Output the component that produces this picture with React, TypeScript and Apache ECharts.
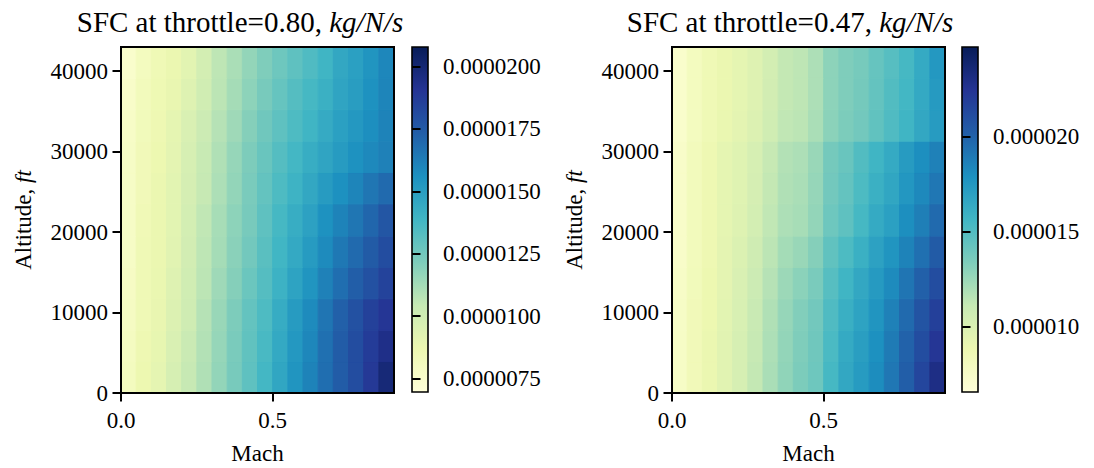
import React, { useEffect, useRef } from "react";
import * as echarts from "echarts";

// Grid of the map: Mach column edges and altitude row edges (ft)
const machEdges = [0, 0.05, 0.1, 0.15, 0.2, 0.25, 0.3, 0.35, 0.4, 0.45, 0.5, 0.55, 0.6, 0.65, 0.7, 0.75, 0.8, 0.85, 0.9];
const altEdges = [0, 3900, 7800, 11700, 15600, 19500, 23500, 27400, 31300, 35200, 39100, 43000];

const machTicks = [0, 0.5];
const altTicks = [0, 10000, 20000, 30000, 40000];

// SFC in 1e-6 kg/N/s; rows go from the lowest altitude band upward, columns from Mach 0 upward
const sfcThrottle080 = [
  [8.07, 8.69, 9.03, 9.72, 10.42, 10.97, 11.66, 12.35, 13.04, 13.8, 14.63, 15.39, 16.08, 16.77, 17.39, 18.02, 18.85, 19.9],
  [8.0, 8.62, 8.96, 9.59, 10.28, 10.9, 11.59, 12.28, 12.97, 13.66, 14.49, 15.25, 15.94, 16.7, 17.39, 18.02, 18.71, 19.4],
  [7.93, 8.48, 8.89, 9.45, 10.07, 10.83, 11.52, 12.21, 12.9, 13.52, 14.35, 15.11, 15.81, 16.56, 17.26, 17.88, 18.5, 18.98],
  [7.86, 8.48, 8.83, 9.38, 10.0, 10.69, 11.38, 12.0, 12.7, 13.32, 14.08, 14.77, 15.39, 16.15, 16.77, 17.33, 17.88, 18.43],
  [7.79, 8.48, 8.76, 9.24, 9.93, 10.62, 11.24, 11.87, 12.49, 13.18, 13.87, 14.49, 15.11, 15.81, 16.43, 16.91, 17.46, 18.02],
  [7.79, 8.41, 8.76, 9.17, 9.86, 10.55, 11.18, 11.8, 12.35, 13.04, 13.73, 14.28, 14.84, 15.53, 16.08, 16.5, 17.05, 17.67],
  [7.79, 8.34, 8.76, 9.17, 9.79, 10.42, 11.04, 11.66, 12.28, 12.9, 13.52, 14.01, 14.56, 15.11, 15.6, 16.01, 16.5, 16.91],
  [7.79, 8.34, 8.69, 9.1, 9.72, 10.35, 10.97, 11.59, 12.21, 12.76, 13.32, 13.8, 14.28, 14.7, 15.11, 15.53, 15.87, 16.15],
  [7.72, 8.27, 8.62, 9.03, 9.59, 10.21, 10.83, 11.38, 12.0, 12.56, 13.04, 13.52, 13.94, 14.42, 14.91, 15.25, 15.67, 16.08],
  [7.65, 8.2, 8.55, 8.89, 9.38, 10.0, 10.69, 11.24, 11.8, 12.35, 12.83, 13.32, 13.73, 14.15, 14.7, 15.04, 15.53, 16.01],
  [7.51, 8.07, 8.48, 8.76, 9.17, 9.86, 10.62, 11.11, 11.66, 12.14, 12.63, 13.04, 13.46, 13.94, 14.56, 14.91, 15.39, 15.94],
];

const sfcThrottle047 = [
  [7.67, 8.39, 8.94, 9.57, 10.2, 11.2, 12.02, 12.83, 13.47, 14.01, 15.46, 16.55, 17.27, 18.09, 19.08, 20.17, 21.44, 23.0],
  [7.67, 8.39, 8.94, 9.57, 10.2, 11.11, 11.93, 12.74, 13.38, 13.92, 15.28, 16.37, 17.09, 17.91, 18.9, 19.99, 21.08, 22.34],
  [7.67, 8.39, 8.85, 9.48, 10.11, 11.02, 11.84, 12.65, 13.28, 13.83, 15.1, 16.09, 16.82, 17.63, 18.63, 19.63, 20.71, 21.8],
  [7.58, 8.3, 8.85, 9.39, 10.02, 10.84, 11.65, 12.47, 13.01, 13.56, 14.82, 15.73, 16.55, 17.36, 18.18, 19.17, 20.08, 21.08],
  [7.49, 8.21, 8.75, 9.39, 9.93, 10.66, 11.47, 12.2, 12.56, 13.19, 14.46, 15.19, 16.0, 16.91, 17.63, 18.54, 19.35, 20.35],
  [7.49, 8.21, 8.75, 9.3, 9.75, 10.39, 11.29, 11.93, 12.11, 12.74, 14.01, 14.55, 15.46, 16.37, 17.0, 18.0, 18.72, 19.63],
  [7.49, 8.21, 8.75, 9.3, 9.66, 10.3, 11.2, 11.84, 12.02, 12.65, 13.83, 14.37, 15.19, 16.0, 16.64, 17.54, 18.27, 19.08],
  [7.49, 8.21, 8.75, 9.3, 9.66, 10.2, 11.11, 11.74, 11.93, 12.56, 13.74, 14.19, 15.01, 15.73, 16.37, 17.27, 18.0, 18.63],
  [7.3, 8.03, 8.57, 9.03, 9.39, 9.84, 10.57, 11.29, 11.47, 12.02, 13.01, 13.47, 13.83, 14.46, 15.1, 15.73, 16.55, 17.27],
  [7.3, 8.03, 8.57, 8.94, 9.3, 9.75, 10.48, 11.2, 11.38, 11.93, 12.92, 13.38, 13.74, 14.37, 15.01, 15.55, 16.46, 17.36],
  [7.3, 8.03, 8.57, 8.94, 9.3, 9.75, 10.39, 11.2, 11.38, 11.93, 12.92, 13.38, 13.65, 14.28, 14.82, 15.46, 16.37, 17.45],
];

// Colour bar ranges and ticks, 1e-6 kg/N/s
const cbRange080 = [6.96, 20.78];
const cbTicks080 = [7.5, 10, 12.5, 15, 17.5, 20];
const cbRange047 = [6.58, 24.7];
const cbTicks047 = [10, 15, 20];

const throttles = ["0.80", "0.47"];

const YLGNBU = ["#ffffd9", "#edf8b1", "#c7e9b4", "#7fcdbb", "#41b6c4", "#1d91c0", "#225ea8", "#253494", "#081d58"];
const FONT = "'Liberation Serif', 'Times New Roman', serif";

function buildCells(values: number[][]) {
  const out: number[][] = [];
  for (let r = 0; r < values.length; r++) {
    for (let c = 0; c < values[r].length; c++) {
      out.push([machEdges[c], machEdges[c + 1], altEdges[r], altEdges[r + 1], values[r][c]]);
    }
  }
  return out;
}

export default function App() {
  const ref = useRef<HTMLDivElement>(null);
  useEffect(() => {
    if (!ref.current) return;
    const chart = echarts.init(ref.current, undefined, { renderer: "svg" });

    const panels = [
      { left: 121, cbLeft: 412, values: sfcThrottle080, range: cbRange080, ticks: cbTicks080, dec: 7, titleX: 240 },
      { left: 672, cbLeft: 962, values: sfcThrottle047, range: cbRange047, ticks: cbTicks047, dec: 6, titleX: 790 },
    ];
    const top = 47;
    const plotW = 273;
    const plotH = 346;

    const grid: any[] = [];
    const xAxis: any[] = [];
    const yAxis: any[] = [];
    const series: any[] = [];
    const visualMap: any[] = [];
    const graphic: any[] = [];

    const labelStyle = { fontFamily: FONT, fontSize: 23, color: "#000" };
    const tickStyle = { color: "#000", width: 2 };

    panels.forEach((p, i) => {
      const gMain = i * 2;
      const gCb = i * 2 + 1;
      grid.push({ left: p.left, top, width: plotW, height: plotH, show: true, borderColor: "#000", borderWidth: 2, backgroundColor: "transparent", z: 10 });
      grid.push({ left: p.cbLeft, top, width: 16, height: plotH - 1 });

      xAxis.push({
        gridIndex: gMain, type: "value", min: 0, max: 0.9, z: 10,
        axisLine: { show: true, lineStyle: tickStyle },
        axisTick: { show: true, length: 8.5, lineStyle: tickStyle, customValues: machTicks },
        axisLabel: { ...labelStyle, margin: 16, customValues: machTicks, formatter: (v: number) => v.toFixed(1) },
        splitLine: { show: false },
      });
      xAxis.push({ gridIndex: gCb, type: "value", min: 0, max: 1, show: false });

      yAxis.push({
        gridIndex: gMain, type: "value", min: 0, max: 43000, z: 10,
        axisLine: { show: true, lineStyle: tickStyle },
        axisTick: { show: true, length: 8.5, lineStyle: tickStyle, customValues: altTicks },
        axisLabel: { ...labelStyle, margin: 13, customValues: altTicks, formatter: (v: number) => String(v) },
        splitLine: { show: false },
      });
      yAxis.push({
        gridIndex: gCb, type: "value", position: "right", min: p.range[0], max: p.range[1], z: 10,
        axisLine: { show: false },
        axisTick: { show: true, length: 8.5, lineStyle: tickStyle, customValues: p.ticks },
        axisLabel: { ...labelStyle, margin: 15, customValues: p.ticks, formatter: (v: number) => (v * 1e-6).toFixed(p.dec) },
        splitLine: { show: false },
      });

      const heatIndex = series.length;
      series.push({
        type: "custom", xAxisIndex: gMain, yAxisIndex: gMain,
        data: buildCells(p.values),
        encode: { x: [0, 1], y: [2, 3] },
        renderItem: (_params: any, api: any) => {
          const a = api.coord([api.value(0), api.value(2)]);
          const b = api.coord([api.value(1), api.value(3)]);
          const color = api.visual("color");
          return {
            type: "rect",
            shape: { x: a[0], y: b[1], width: b[0] - a[0], height: a[1] - b[1] },
            style: { fill: color, stroke: color, lineWidth: 1 },
          };
        },
      });
      visualMap.push({
        type: "continuous", show: false, seriesIndex: heatIndex, dimension: 4,
        min: p.range[0], max: p.range[1], inRange: { color: YLGNBU },
      });
      series.push({
        type: "custom", xAxisIndex: gCb, yAxisIndex: gCb,
        data: [[0, 1, p.range[0], p.range[1]]],
        encode: { x: [0, 1], y: [2, 3] },
        renderItem: (_params: any, api: any) => {
          const a = api.coord([api.value(0), api.value(2)]);
          const b = api.coord([api.value(1), api.value(3)]);
          return {
            type: "rect",
            shape: { x: a[0], y: b[1], width: b[0] - a[0], height: a[1] - b[1] },
            style: {
              fill: new echarts.graphic.LinearGradient(0, 1, 0, 0, YLGNBU.map((c, k) => ({ offset: k / (YLGNBU.length - 1), color: c }))),
              stroke: "#000",
              lineWidth: 1.6,
            },
          };
        },
      });

      graphic.push({
        type: "text", x: p.titleX, y: 22,
        style: {
          text: `{n|SFC at throttle=${throttles[i]}, }{i|kg/N/s}`,
          align: "center", verticalAlign: "middle",
          rich: {
            n: { fontFamily: FONT, fontSize: 29, fill: "#000" },
            i: { fontFamily: FONT, fontSize: 29, fontStyle: "italic", fill: "#000" },
          },
        },
      });
      graphic.push({
        type: "text", x: p.left + plotW / 2, y: 453,
        style: { text: "Mach", fontFamily: FONT, fontSize: 23, fill: "#000", align: "center", verticalAlign: "middle" },
      });
      graphic.push({
        type: "text", x: p.left - 98, y: top + plotH / 2, rotation: Math.PI / 2,
        style: {
          text: "{n|Altitude, }{i|ft}",
          align: "center", verticalAlign: "middle",
          rich: {
            n: { fontFamily: FONT, fontSize: 23, fill: "#000" },
            i: { fontFamily: FONT, fontSize: 23, fontStyle: "italic", fill: "#000" },
          },
        },
      });
    });

    chart.setOption({
      animation: false,
      backgroundColor: "#fff",
      grid, xAxis, yAxis, series, visualMap, graphic,
    });
    return () => chart.dispose();
  }, []);

  return <div ref={ref} style={{ position: "fixed", left: 0, top: 0, width: 1094, height: 468, background: "#fff" }} />;
}
